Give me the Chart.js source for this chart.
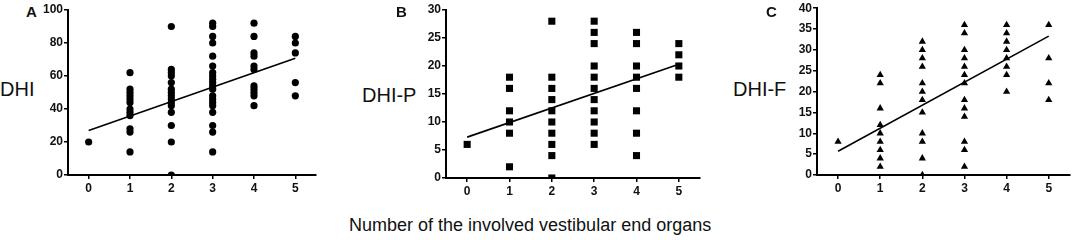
<!DOCTYPE html>
<html>
<head>
<meta charset="utf-8">
<script src="https://cdn.jsdelivr.net/npm/chart.js@4"></script>
<style>
  html, body { margin: 0; padding: 0; background: #fff; }
  body { width: 1074px; height: 240px; position: relative; overflow: hidden; font-family: Arial, "Liberation Sans", sans-serif; }
  .panel { position: absolute; }
  .lbl { position: absolute; color: #111; white-space: nowrap; }
  .letter { font-weight: bold; font-size: 15px; }
  .ytitle { font-size: 20px; }
</style>
</head>
<body>
<div class="panel" style="left:40px;top:0;width:290px;height:200px"><canvas id="chartA"></canvas></div>
<div class="panel" style="left:418px;top:0;width:296px;height:203px"><canvas id="chartB"></canvas></div>
<div class="panel" style="left:789px;top:0;width:285px;height:200px"><canvas id="chartC"></canvas></div>

<div class="lbl letter" style="left:26px;top:3px">A</div>
<div class="lbl letter" style="left:396px;top:3px">B</div>
<div class="lbl letter" style="left:766px;top:3px">C</div>
<div class="lbl ytitle" style="left:0px;top:78px">DHI</div>
<div class="lbl ytitle" style="left:362px;top:84px">DHI-P</div>
<div class="lbl ytitle" style="left:733px;top:78px">DHI-F</div>
<div class="lbl" style="left:349px;top:215px;font-size:18px">Number of the involved vestibular end organs</div>

<script>
/* ---- data ---- */
const organCounts = [0, 1, 2, 3, 4, 5];

// A: DHI total
const dhiByOrgans = [
    [20],
    [62, 52, 50, 48, 46, 44, 40, 38, 36, 28, 26, 14],
    [90, 64, 62, 60, 56, 52, 50, 48, 46, 44, 42, 38, 30, 20, 0],
    [92, 90, 84, 80, 72, 66, 62, 60, 58, 56, 54, 52, 48, 46, 44, 42, 38, 30, 26, 14],
    [92, 84, 74, 72, 66, 64, 54, 52, 50, 48, 42],
    [84, 80, 74, 56, 48]
];
const dhiFitEnds = [27, 70.7];
const dhiTicks = [0, 20, 40, 60, 80, 100];

// B: DHI-P
const dhiPByOrgans = [
    [6],
    [18, 16, 12, 10, 8, 2],
    [28, 18, 16, 14, 12, 10, 8, 6, 4, 0],
    [28, 26, 24, 20, 18, 16, 14, 12, 10, 8, 6],
    [26, 24, 20, 18, 16, 12, 8, 4],
    [24, 22, 20, 18]
];
const dhiPFitEnds = [7.3, 20.3];
const dhiPTicks = [0, 5, 10, 15, 20, 25, 30];

// C: DHI-F
const dhiFByOrgans = [
    [8],
    [24, 22, 16, 12, 10, 8, 6, 4, 2],
    [32, 30, 28, 26, 22, 20, 18, 15, 10, 8, 4, 0],
    [36, 34, 30, 28, 26, 24, 22, 18, 16, 14, 8, 6, 2],
    [36, 34, 32, 30, 28, 26, 24, 20],
    [36, 28, 22, 18]
];
const dhiFFitEnds = [5.7, 33.3];
const dhiFTicks = [0, 5, 10, 15, 20, 25, 30, 35, 40];

/* ---- helpers ---- */
function toPoints(groups) {
    const pts = [];
    groups.forEach((vals, i) => vals.forEach(v => pts.push({ x: organCounts[i], y: v })));
    return pts;
}

function drawPanel(id, groups, fitEnds, yTicks, pointStyle, radius, pad) {
    const ctx = document.getElementById(id).getContext('2d');
    const yMax = yTicks[yTicks.length - 1];
    const tickFont = { family: 'Arial, "Liberation Sans", sans-serif', size: 12, weight: 'bold' };

    return new Chart(ctx, {
        type: 'scatter',
        data: {
            datasets: [
                {
                    data: toPoints(groups),
                    pointStyle: pointStyle,
                    pointRadius: radius,
                    pointBackgroundColor: '#000',
                    pointBorderColor: '#000',
                    pointBorderWidth: 0
                },
                {
                    type: 'line',
                    data: [
                        { x: organCounts[0], y: fitEnds[0] },
                        { x: organCounts[organCounts.length - 1], y: fitEnds[1] }
                    ],
                    borderColor: '#000',
                    borderWidth: 1.6,
                    pointRadius: 0,
                    fill: false
                }
            ]
        },
        options: {
            responsive: true,
            maintainAspectRatio: false,
            animation: false,
            layout: { padding: pad },
            plugins: {
                legend: { display: false },
                tooltip: { enabled: false }
            },
            scales: {
                x: {
                    type: 'linear',
                    min: -0.5,
                    max: 5.5,
                    afterBuildTicks: s => { s.ticks = organCounts.map(v => ({ value: v })); },
                    afterFit: s => { s.height = 25; },
                    grid: { drawOnChartArea: false, drawTicks: true, tickLength: 4, color: '#000', lineWidth: 1.5 },
                    border: { color: '#000', width: 2 },
                    ticks: { color: '#111', font: tickFont, padding: 2, maxRotation: 0 }
                },
                y: {
                    min: 0,
                    max: yMax,
                    afterBuildTicks: s => { s.ticks = yTicks.map(v => ({ value: v })); },
                    afterFit: s => { s.width = 28; },
                    grid: { drawOnChartArea: false, drawTicks: true, tickLength: 4, color: '#000', lineWidth: 1.5 },
                    border: { color: '#000', width: 2 },
                    ticks: { color: '#111', font: tickFont, padding: 1 }
                }
            }
        }
    });
}

drawPanel('chartA', dhiByOrgans, dhiFitEnds, dhiTicks, 'circle', 3.6, { left: 0, right: 14, top: 10, bottom: 0 });
drawPanel('chartB', dhiPByOrgans, dhiPFitEnds, dhiPTicks, 'rect', 5, { left: 0, right: 14, top: 10, bottom: 0 });
drawPanel('chartC', dhiFByOrgans, dhiFFitEnds, dhiFTicks, 'triangle', 4.2, { left: 0, right: 2, top: 6, bottom: 0 });
</script>
</body>
</html>
